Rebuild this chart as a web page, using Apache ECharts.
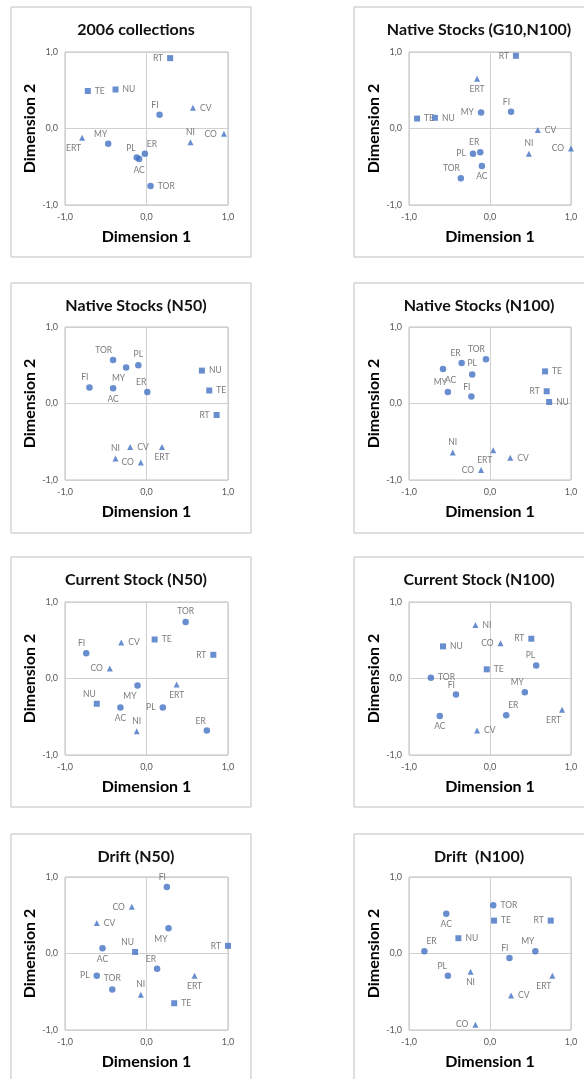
<!DOCTYPE html>
<html><head><meta charset="utf-8">
<script src="https://cdn.jsdelivr.net/npm/echarts@6/dist/echarts.min.js"></script>
<style>html,body{margin:0;padding:0;background:#fff}#c{width:584px;height:1079px}</style>
</head><body><div id="c"></div>
<script>
// Population order used by every array below
const populations = ['AC','CO','CV','ER','ERT','FI','MY','NI','NU','PL','RT','TE','TOR'];
const circlePops = ['AC','ER','FI','MY','PL','TOR'];
const squarePops = ['NU','RT','TE'];
const trianglePops = ['CO','CV','ERT','NI'];
const axisTicks = [-1, 0, 1];

const panelTitles = ['2006 collections','Native Stocks (G10,N100)','Native Stocks (N50)','Native Stocks (N100)',
  'Current Stock (N50)','Current Stock (N100)','Drift (N50)','Drift  (N100)'];

// Dimension 1 / Dimension 2 values, in population order
const collections2006_d1 = [-0.09, 0.95, 0.57,-0.02,-0.79, 0.16,-0.47, 0.54,-0.38,-0.12, 0.29,-0.72, 0.05];
const collections2006_d2 = [-0.40,-0.07, 0.27,-0.33,-0.12, 0.18,-0.20,-0.18, 0.51,-0.38, 0.92, 0.49,-0.75];
const nativeG10N100_d1 = [-0.10, 1.00, 0.59,-0.12,-0.16, 0.26,-0.11, 0.48,-0.68,-0.21, 0.32,-0.90,-0.36];
const nativeG10N100_d2 = [-0.49,-0.26,-0.02,-0.31, 0.65, 0.22, 0.21,-0.33, 0.14,-0.33, 0.95, 0.13,-0.65];
const nativeN50_d1 = [-0.41,-0.07,-0.20, 0.01, 0.19,-0.70,-0.25,-0.38, 0.68,-0.10, 0.86, 0.77,-0.41];
const nativeN50_d2 = [ 0.20,-0.77,-0.57, 0.15,-0.57, 0.21, 0.47,-0.72, 0.43, 0.50,-0.15, 0.17, 0.57];
const nativeN100_d1 = [-0.58,-0.11, 0.25,-0.35, 0.04,-0.23,-0.52,-0.46, 0.73,-0.22, 0.70, 0.68,-0.05];
const nativeN100_d2 = [ 0.45,-0.87,-0.71, 0.53,-0.61, 0.09, 0.15,-0.64, 0.02, 0.38, 0.16, 0.42, 0.58];
const currentN50_d1 = [-0.32,-0.45,-0.31, 0.74, 0.37,-0.74,-0.11,-0.12,-0.61, 0.20, 0.82, 0.10, 0.48];
const currentN50_d2 = [-0.38, 0.13, 0.47,-0.68,-0.08, 0.33,-0.09,-0.69,-0.33,-0.38, 0.31, 0.51, 0.74];
const currentN100_d1 = [-0.62, 0.13,-0.16, 0.20, 0.89,-0.42, 0.43,-0.18,-0.58, 0.57, 0.51,-0.04,-0.73];
const currentN100_d2 = [-0.49, 0.46,-0.68,-0.48,-0.41,-0.21,-0.18, 0.70, 0.42, 0.17, 0.52, 0.12, 0.01];
const driftN50_d1 = [-0.54,-0.18,-0.61, 0.13, 0.59, 0.25, 0.27,-0.07,-0.14,-0.61, 1.00, 0.34,-0.42];
const driftN50_d2 = [ 0.07, 0.61, 0.40,-0.20,-0.29, 0.87, 0.33,-0.54, 0.02,-0.29, 0.10,-0.65,-0.47];
const driftN100_d1 = [-0.54,-0.18, 0.26,-0.81, 0.77, 0.24, 0.56,-0.24,-0.39,-0.52, 0.75, 0.05, 0.04];
const driftN100_d2 = [ 0.52,-0.93,-0.55, 0.03,-0.29,-0.06, 0.03,-0.24, 0.20,-0.29, 0.43, 0.43, 0.63];

// label side keywords (style only), in population order
const collections2006_lab = ['b','l','r','tr','bl','tl','tl','t','r','tl','l','r','r'];
const nativeG10N100_lab   = ['b','l','r','tl','b','tl','l','t','r','l','l','r','tl'];
const nativeN50_lab       = ['b','l','r','tl','b','tl','bl','t','r','t','l','r','tl'];
const nativeN100_lab      = ['br','l','r','tl','bl','tl','tl','t','r','t','l','r','tl'];
const currentN50_lab      = ['b','l','r','tl','b','tl','bl','t','tl','l','l','r','t'];
const currentN100_lab     = ['b','l','r','tr','bl','tl','tl','r','r','tl','l','r','r'];
const driftN50_lab        = ['b','l','r','tl','b','tl','bl','t','tl','l','l','r','t'];
const driftN100_lab       = ['b','l','r','tr','bl','tl','tl','b','r','tl','l','r','r'];

const panels = [
  [collections2006_d1, collections2006_d2, collections2006_lab],
  [nativeG10N100_d1, nativeG10N100_d2, nativeG10N100_lab],
  [nativeN50_d1, nativeN50_d2, nativeN50_lab],
  [nativeN100_d1, nativeN100_d2, nativeN100_lab],
  [currentN50_d1, currentN50_d2, currentN50_lab],
  [currentN100_d1, currentN100_d2, currentN100_lab],
  [driftN50_d1, driftN50_d2, driftN50_lab],
  [driftN100_d1, driftN100_d2, driftN100_lab]
];

const BLUE = '#4472C4';
const FONT = 'Lato, "Open Sans", sans-serif';
const colLeft = [65, 409], colWidth = [163, 162];
const rowTop = [52, 327, 602, 877], gridH = 153;
const boxLeft = [11, 354], boxTop = [7, 283, 557, 834];
const fmt = v => v.toFixed(1).replace('.', ',');

const labelStyles = {
  l:  {position:'left', distance:4},
  r:  {position:'right', distance:4},
  t:  {position:'top', distance:3},
  b:  {position:'bottom', distance:3},
  tl: {position:'top', distance:2, align:'right', offset:[-1,0]},
  tr: {position:'top', distance:2, align:'left', offset:[2,0]},
  bl: {position:'bottom', distance:3, align:'right', offset:[-1,0]},
  br: {position:'bottom', distance:3, align:'left', offset:[2,0]}
};
function symbolOf(p){
  if (squarePops.includes(p)) return {symbol:'rect', symbolSize:6};
  if (trianglePops.includes(p)) return {symbol:'triangle', symbolSize:6};
  return {symbol:'circle', symbolSize:6.5};
}

const grid = [], xAxis = [], yAxis = [], series = [], title = [], graphic = [];
panels.forEach((pn, i) => {
  const col = i % 2, row = Math.floor(i / 2);
  grid.push({left: colLeft[col], top: rowTop[row], width: colWidth[col], height: gridH,
    show: true, borderColor: '#bfbfbf', borderWidth: 1});
  const common = {gridIndex: i, type: 'value', min: axisTicks[0], max: axisTicks[2], interval: 1,
    axisLine: {show: false}, axisTick: {show: false},
    splitLine: {show: true, lineStyle: {color: '#d0d0d0', width: 1}},
    nameLocation: 'middle',
    nameTextStyle: {fontFamily: FONT, fontWeight: 'bold', fontSize: 16, color: '#000'}};
  xAxis.push(Object.assign({}, common, {name: 'Dimension 1', nameGap: 24,
    axisLabel: {formatter: fmt, color: '#595959', fontSize: 9, fontFamily: FONT, margin: 8}}));
  yAxis.push(Object.assign({}, common, {name: 'Dimension 2', nameGap: 25,
    axisLabel: {formatter: fmt, color: '#595959', fontSize: 9, fontFamily: FONT, margin: 7}}));
  const data = populations.map((p, k) => Object.assign({
    name: p, value: [pn[0][k], pn[1][k]],
    label: Object.assign({show: true, formatter: p, color: '#595959', fontSize: 8.5, fontFamily: FONT},
      labelStyles[pn[2][k]])
  }, symbolOf(p)));
  series.push({type: 'scatter', xAxisIndex: i, yAxisIndex: i, data,
    itemStyle: {color: BLUE}, emphasis: {disabled: true}, animation: false});
  title.push({text: panelTitles[i], left: boxLeft[col] + 120, top: boxTop[row] + 10, textAlign: 'center',
    textStyle: {fontFamily: FONT, fontWeight: 'bold', fontSize: 16, color: '#111'}});
  graphic.push({type: 'rect', shape: {x: boxLeft[col], y: boxTop[row], width: 240, height: 250},
    style: {fill: 'none', stroke: '#bfbfbf', lineWidth: 1}, silent: true, z: -1});
});

const chart = echarts.init(document.getElementById('c'), null, {renderer: 'canvas'});
chart.setOption({backgroundColor: '#fff', animation: false, title, grid, xAxis, yAxis, series, graphic});
</script></body></html>
